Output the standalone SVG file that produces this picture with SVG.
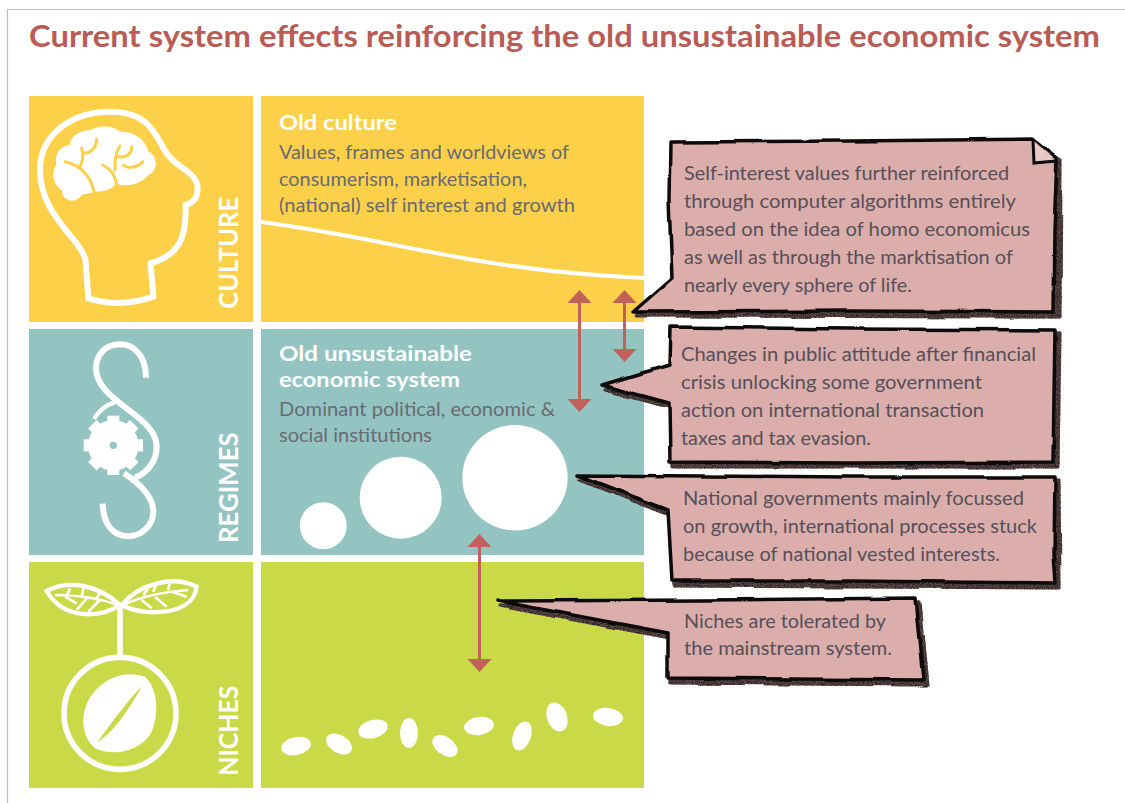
<svg xmlns="http://www.w3.org/2000/svg" width="1125" height="803" viewBox="0 0 1125 803">
<style>
text{font-family:Lato,"Open Sans","Liberation Sans",sans-serif}
.t{font-size:19px;fill:#6a6a72}
.h{font-size:21px;font-weight:700;fill:#fff}
.c{font-size:18.500px;fill:#55505a}
.v{font-size:80px;font-weight:700;fill:#fff}
.w{fill:none;stroke:#fff}
.b{fill:#dcaeab;stroke:#0c0a0a;stroke-width:3.500;stroke-linejoin:round;filter:url(#rough)}
.s{fill:#5d4b4b;stroke:#5d4b4b;stroke-width:3;stroke-linejoin:round;filter:url(#grain)}
</style>
<defs>
<filter id="rough" x="-5%" y="-5%" width="110%" height="110%" color-interpolation-filters="sRGB"><feTurbulence type="fractalNoise" baseFrequency="0.022" numOctaves="2" seed="4" result="w"/><feDisplacementMap in="SourceGraphic" in2="w" scale="4" xChannelSelector="R" yChannelSelector="G"/></filter>
<filter id="grain" x="-5%" y="-5%" width="110%" height="110%" color-interpolation-filters="sRGB"><feTurbulence type="fractalNoise" baseFrequency="0.022" numOctaves="2" seed="4" result="w"/><feDisplacementMap in="SourceGraphic" in2="w" scale="4" xChannelSelector="R" yChannelSelector="G" result="d"/><feTurbulence type="fractalNoise" baseFrequency="1.100" numOctaves="2" seed="7"/><feColorMatrix values="0 0 0 0 .18 0 0 0 0 .13 0 0 0 0 .13 0 0 0 4 -1.600"/><feComposite operator="in" in2="d" result="n"/><feMerge><feMergeNode in="d"/><feMergeNode in="n"/></feMerge></filter>
</defs>
<rect width="1125" height="803" fill="#fff"/>
<path d="M7.500 803V9.500H1125" fill="none" stroke="#bdbdbd" stroke-width="1.200"/>
<text x="29" y="47" font-size="31" font-weight="700" fill="#b85c55" textLength="1071" lengthAdjust="spacingAndGlyphs">Current system effects reinforcing the old unsustainable economic system</text>
<g id="culture">
<rect x="29" y="96" width="224" height="226" fill="#fdd04a"/><rect x="261" y="96" width="383" height="226" fill="#fdd04a"/>
<g transform="translate(20 90) scale(.3333)">
<path class="w" stroke-width="18" d="M205 625L197 515C190 450 60 380 60 240C60 130 160 65 270 65C390 65 405 135 440 190C475 240 535 245 533 300C532 330 515 340 497 345C500 440 480 495 392 520L400 620C330 645 270 645 205 625Z"/>
<path fill="#fff" d="M125 300C95 280 95 240 110 225C100 185 130 165 150 165C150 135 190 120 210 120C240 105 280 105 300 125C335 125 375 140 385 185C415 195 415 245 385 255C365 280 320 295 290 280C270 305 240 305 225 305C210 310 195 312 185 315C170 340 130 340 125 300Z"/>
<path fill="none" stroke="#fdd04a" stroke-width="9" stroke-linecap="round" d="M135 215C175 225 210 250 222 305M178 235C190 210 190 200 185 175M190 190C210 190 230 175 230 148M248 225C270 235 285 255 290 282M285 240C285 210 285 190 300 168M295 200C320 205 335 190 335 170M310 225C325 240 355 230 368 215"/>
<text class="v" transform="translate(653 656) rotate(-90)" textLength="335" lengthAdjust="spacingAndGlyphs">CULTURE</text>
</g></g>
<g id="regimes">
<rect x="29" y="329" width="224" height="226" fill="#93c4c2"/><rect x="261" y="329" width="383" height="226" fill="#93c4c2"/>
<g transform="translate(20 325) scale(.3333)">
<path class="w" stroke-width="18" d="M378 158C378 90 340 58 300 58C255 58 228 90 228 130C228 230 410 270 410 365C410 410 380 445 345 458"/>
<path class="w" stroke-width="18" d="M312 445C350 470 400 510 400 560C400 600 365 634 325 634C280 634 250 600 248 536"/>
<path class="w" stroke-width="13" d="M222 282C235 260 255 240 285 232"/>
<circle cx="280" cy="361" r="76" fill="#fff"/>
<g fill="#fff"><rect x="262" y="272" width="36" height="178"/><rect x="262" y="272" width="36" height="178" transform="rotate(45 280 361)"/><rect x="262" y="272" width="36" height="178" transform="rotate(90 280 361)"/><rect x="262" y="272" width="36" height="178" transform="rotate(135 280 361)"/></g>
<circle cx="280" cy="361" r="11" fill="#93c4c2"/>
<text class="v" transform="translate(653 654) rotate(-90)" textLength="332" lengthAdjust="spacingAndGlyphs">REGIMES</text>
</g></g>
<g id="niches">
<rect x="29" y="562" width="224" height="226" fill="#cad947"/><rect x="261" y="562" width="383" height="226" fill="#cad947"/>
<g transform="translate(20 555) scale(.3333)">
<circle class="w" stroke-width="17" cx="300" cy="475" r="168"/>
<path class="w" stroke-width="17" d="M300 150V305"/>
<path fill="#fff" d="M375 365C410 395 420 470 395 530C370 580 290 610 225 580C180 540 180 470 215 420C255 365 320 345 375 365Z"/>
<path fill="#cad947" d="M366 393C335 450 285 530 232 562C270 510 320 440 366 393Z"/>
<path class="w" stroke-width="13" d="M80 108C140 75 230 85 300 150C240 190 130 195 80 108Z"/>
<path class="w" stroke-width="13" d="M530 95C460 60 360 85 305 150C370 185 520 185 530 95Z"/>
<path class="w" stroke-width="8" d="M105 120C170 120 240 130 295 150M150 100L140 122M190 100L185 125M240 115L225 135M135 125L170 145M170 165L200 130M205 170L240 135M505 105C440 110 360 125 310 150M410 85L400 110M450 80L445 105M385 100L370 120M500 125L460 112M440 155L405 125M395 160L365 135"/>
<text class="v" transform="translate(653 662) rotate(-90)" textLength="270" lengthAdjust="spacingAndGlyphs">NICHES</text>
</g></g>
<path class="w" stroke-width="4" d="M261 222C400 240 470 270 644 278"/>
<g id="old-culture"><text class="h" x="279" y="130" textLength="118" lengthAdjust="spacingAndGlyphs">Old culture</text>
<text class="t" x="279" y="159" textLength="290" lengthAdjust="spacingAndGlyphs">Values, frames and worldviews of</text>
<text class="t" x="279" y="186" textLength="248" lengthAdjust="spacingAndGlyphs">consumerism, marketisation,</text>
<text class="t" x="279" y="212" textLength="296" lengthAdjust="spacingAndGlyphs">(national) self interest and growth</text></g>
<g id="old-system"><text class="h" x="279" y="361" textLength="193" lengthAdjust="spacingAndGlyphs">Old unsustainable</text><text class="h" x="279" y="387" textLength="181" lengthAdjust="spacingAndGlyphs">economic system</text>
<text class="t" x="279" y="416" textLength="276" lengthAdjust="spacingAndGlyphs">Dominant political, economic &amp;</text>
<text class="t" x="279" y="442" textLength="153" lengthAdjust="spacingAndGlyphs">social institutions</text>
<circle cx="323.300" cy="525.700" r="23.500" fill="#fff"/><circle cx="400.700" cy="497.700" r="41" fill="#fff"/><circle cx="515" cy="477.700" r="52.700" fill="#fff"/></g>
<g id="seeds" fill="#fff">
<ellipse cx="296" cy="746" rx="15" ry="9" transform="rotate(-12 296 746)"/>
<ellipse cx="339" cy="744" rx="14" ry="9" transform="rotate(30 339 744)"/>
<ellipse cx="373" cy="729" rx="15" ry="9" transform="rotate(-15 373 729)"/>
<ellipse cx="409" cy="733" rx="9" ry="15"/>
<ellipse cx="445" cy="746" rx="14" ry="9" transform="rotate(35 445 746)"/>
<ellipse cx="479" cy="726" rx="15" ry="9" transform="rotate(-8 479 726)"/>
<ellipse cx="522" cy="736" rx="9" ry="15" transform="rotate(20 522 736)"/>
<ellipse cx="557" cy="717" rx="10" ry="15" transform="rotate(-20 557 717)"/>
<ellipse cx="608" cy="717" rx="15" ry="9" transform="rotate(8 608 717)"/>
</g>
<g id="connectors" fill="#c1625a" stroke="none">
<path d="M578 300h3v102h-3z"/><path d="M579.500 290l12 13h-24zM579.500 412l12-13h-24z"/>
<path d="M623 300h3v52h-3z"/><path d="M624.500 290l12 13h-24zM624.500 362l12-13h-24z"/>
<path d="M478 544h3v118h-3z"/><path d="M479.500 534l12 13h-24zM479.500 672l12-13h-24z"/>
</g>
<g id="callout-1">
<path class="s" d="M672 146L1035 143L1061 160L1060 317L636 316L675 282Z"/>
<path class="b" d="M670 142L850 141L1033 139L1057 158L1054 230L1053 312L850 311L633 312L672 278L669 200Z"/>
<path d="M1033 140L1034 163L1056 161" fill="#e9c9c7" stroke="#0c0a0a" stroke-width="3"/>
<text class="c"><tspan x="684" y="180" textLength="325" lengthAdjust="spacingAndGlyphs">Self-interest values further reinforced</tspan><tspan x="684" y="208" textLength="332" lengthAdjust="spacingAndGlyphs">through computer algorithms entirely</tspan><tspan x="684" y="236" textLength="346" lengthAdjust="spacingAndGlyphs">based on the idea of homo economicus</tspan><tspan x="684" y="264" textLength="329" lengthAdjust="spacingAndGlyphs">as well as through the marktisation of</tspan><tspan x="684" y="292" textLength="228" lengthAdjust="spacingAndGlyphs">nearly every sphere of life.</tspan></text>
</g>
<g id="callout-2">
<path class="s" d="M672 331L1060 333L1058 467L673 467L672 408L605 390L672 369Z"/>
<path class="b" d="M670 327L850 329L1055 330L1053 462L850 463L670 462L669 403L602 385L669 365Z"/>
<text class="c"><tspan x="681" y="361" textLength="355" lengthAdjust="spacingAndGlyphs">Changes in public attitude after financial</tspan><tspan x="681" y="389" textLength="301" lengthAdjust="spacingAndGlyphs">crisis unlocking some government</tspan><tspan x="681" y="417" textLength="303" lengthAdjust="spacingAndGlyphs">action on international transaction</tspan><tspan x="681" y="445" textLength="190" lengthAdjust="spacingAndGlyphs">taxes and tax evasion.</tspan></text>
</g>
<g id="callout-3">
<path class="s" d="M579 480L1059 480L1060 588L674 586L670 515Z"/>
<path class="b" d="M577 475L850 477L1055 477L1054 555L1056 583L850 581L672 581L668 510Z"/>
<text class="c"><tspan x="683" y="505" textLength="341" lengthAdjust="spacingAndGlyphs">National governments mainly focussed</tspan><tspan x="683" y="533" textLength="354" lengthAdjust="spacingAndGlyphs">on growth, international processes stuck</tspan><tspan x="683" y="561" textLength="317" lengthAdjust="spacingAndGlyphs">because of national vested interests.</tspan></text>
</g>
<g id="callout-4">
<path class="s" d="M500 606L919 602L927 685L670 683L670 638Z"/>
<path class="b" d="M498 601L700 600L915 598L923 680L668 678L668 633Z"/>
<text class="c"><tspan x="684" y="628" textLength="202" lengthAdjust="spacingAndGlyphs">Niches are tolerated by</tspan><tspan x="684" y="655" textLength="208" lengthAdjust="spacingAndGlyphs">the mainstream system.</tspan></text>
</g>
</svg>
